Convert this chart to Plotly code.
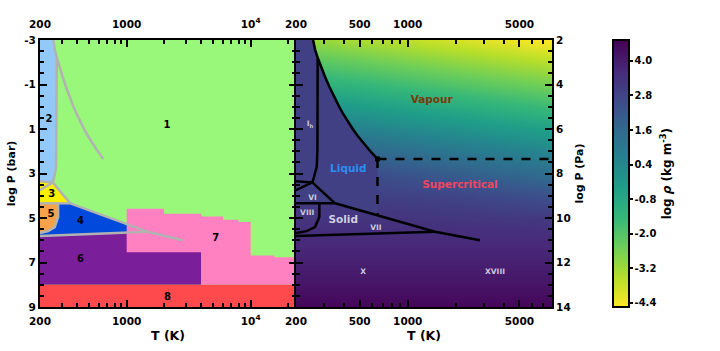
import numpy as np
import plotly.graph_objects as go
from plotly.colors import sample_colorscale

# ---------------- data ----------------
# Water phase boundaries: T [K], log10 P [Pa]
subl_boil_T = [256, 263, 273.16, 283, 293, 303, 323, 343, 373.12, 393, 423, 453, 483, 513, 543, 573, 603, 633, 647.1]
subl_boil_P = [2.0, 2.42, 2.787, 3.089, 3.369, 3.628, 4.092, 4.494, 5.006, 5.298, 5.678, 6.001, 6.281, 6.525, 6.740, 6.934, 7.107, 7.270, 7.344]
ih_melt_T = [273.16, 273.08, 272.4, 269.5, 264.2, 258.7, 253.0]
ih_melt_P = [2.787, 6.0, 7.0, 7.7, 8.0, 8.18, 8.40]
ih_iii_T = [200, 253.0]
ih_iii_P = [8.35, 8.40]
ii_v_T = [200, 253.0]
ii_v_P = [8.75, 8.40]
vi_melt_T = [253.0, 351]
vi_melt_P = [8.40, 9.34]
vi_vii_T = [200, 351]
vi_vii_P = [9.34, 9.34]
vii_melt_T = [351, 1483, 2830]
vii_melt_P = [9.34, 10.62, 11.0]
viii_T = [280, 280, 263, 233, 200]
viii_P = [9.34, 9.96, 10.41, 10.59, 10.68]
vii_x_T = [200, 1483]
vii_x_P = [10.81, 10.62]
crit_T, crit_P = 647.1, 7.344
crit_iso_end_P = 9.88          # dashed isotherm meets ice VII melting curve
T_right_max = 8000

# Left panel: EOS region map (T [K], log10 P [bar])
T_left_min, T_left_max = 200, 23200
P_left_min, P_left_max = -3, 9
reg8_P = 8.0                         # red region top
reg6_T_max = 4000                    # purple region right edge
reg6_P_top = 5.5
pink_T_edges = [1000, 2000, 4000, 6000, 8000, 10000, 15500, 23500]
pink_P_top = [4.58, 4.81, 4.93, 5.08, 5.18, 6.68, 6.76]
pink_P_bottom_low = 6.54             # bottom between 1000 K and 4000 K
reg_labels = ['1', '2', '3', '4', '5', '6', '7', '8']
reg_label_T = [2110, 236, 249, 425, 245, 425, 5220, 2130]
reg_label_P = [0.83, 0.56, 3.95, 5.14, 4.85, 6.88, 5.9, 8.59]

# Right panel: density field log10 rho [kg m^-3]
heat_T = [200, 300, 500, 700, 1000, 2000, 4000, 8000]
heat_P = [2, 3, 4, 5, 6, 7, 8, 9, 10, 11, 12, 13, 14]
heat_logrho = [
    [-2.97, -3.14, -3.36, -3.51, -3.67, -3.97, -4.27, -4.57],
    [-1.97, -2.14, -2.36, -2.51, -2.67, -2.97, -3.27, -3.57],
    [-0.97, -1.14, -1.36, -1.51, -1.67, -1.97, -2.27, -2.57],
    [0.03, -0.14, -0.36, -0.51, -0.67, -0.97, -1.27, -1.57],
    [1.03, 0.86, 0.64, 0.49, 0.33, 0.03, -0.27, -0.57],
    [2.03, 1.86, 1.64, 1.49, 1.33, 1.03, 0.73, 0.43],
    [2.90, 2.80, 2.60, 2.45, 2.30, 2.00, 1.70, 1.40],
    [3.05, 3.05, 3.00, 2.95, 2.90, 2.80, 2.60, 2.40],
    [3.30, 3.30, 3.30, 3.30, 3.30, 3.25, 3.20, 3.15],
    [3.60, 3.60, 3.60, 3.60, 3.60, 3.60, 3.60, 3.60],
    [3.90, 3.90, 3.90, 3.90, 3.90, 3.90, 3.90, 3.90],
    [4.20, 4.20, 4.20, 4.20, 4.20, 4.20, 4.20, 4.20],
    [4.60, 4.60, 4.60, 4.60, 4.60, 4.60, 4.60, 4.60],
]
condensed_logrho = 2.95
rho_min, rho_max = -4.55, 4.72
cbar_ticks = [4.0, 2.8, 1.6, 0.4, -0.8, -2.0, -3.2, -4.4]

phase_labels = ['Vapour', 'Liquid', 'Supercritical', 'Solid']
phase_label_T = [1413, 425, 2125, 395]
phase_label_P = [4.70, 7.83, 8.53, 10.1]
ice_labels = ['I<sub>h</sub>', 'VI', 'VIII', 'VII', 'X', 'XVIII']
ice_label_T = [245, 254, 235, 633, 527, 3520]
ice_label_P = [5.8, 9.1, 9.76, 10.45, 12.44, 12.44]

left_y_ticks = [-3, -1, 1, 3, 5, 7, 9]
right_y_ticks = [2, 4, 6, 8, 10, 12, 14]

# ---------------- styles ----------------
FONT = 'DejaVu Sans'
C_GREEN = '#99f87a'
C_LBLUE = '#93c9f8'
C_YELLOW = '#fbef00'
C_ORANGE = '#f7a24a'
C_BLUE = '#0049dd'
C_PURPLE = '#7b1e99'
C_PINK = '#ff81c1'
C_RED = '#ff4a4d'
C_GRAY = '#b2b2b2'

W, H = 720, 351
PL, PR, PT, PB = 40, 552, 40, 306.7   # plot-area pixel box


def bar(p):
    return [v - 5 for v in p]


fig = go.Figure()


def poly(xs, ys, color, xa='x', ya='y'):
    fig.add_trace(go.Scatter(x=xs, y=ys, fill='toself', fillcolor=color, mode='lines',
                             line=dict(width=0, color=color), xaxis=xa, yaxis=ya,
                             hoverinfo='skip', showlegend=False))


def line(xs, ys, color, width=2.5, dash='solid', xa='x', ya='y'):
    fig.add_trace(go.Scatter(x=xs, y=ys, mode='lines', line=dict(color=color, width=width, dash=dash),
                             xaxis=xa, yaxis=ya, hoverinfo='skip', showlegend=False))


# ---- left panel regions ----
poly([T_left_min, 23500, 23500, T_left_min], [P_left_min - 1, P_left_min - 1, P_left_max + 1, P_left_max + 1], C_GREEN)
poly([T_left_min, reg6_T_max, reg6_T_max, T_left_min], [reg6_P_top, reg6_P_top, reg8_P, reg8_P], C_PURPLE)
poly([vi_vii_T[0]] + vii_melt_T[:2] + [vii_x_T[0]],
     bar([vi_vii_P[0]] + vii_melt_P[:2] + [vii_x_P[0]]), C_BLUE)
poly([vi_vii_T[0]] + viii_T, bar([vi_vii_P[0]] + viii_P), C_ORANGE)
px, py = [pink_T_edges[0]], [pink_P_bottom_low]
for i in range(len(pink_P_top)):
    px += [pink_T_edges[i], pink_T_edges[i + 1]]
    py += [pink_P_top[i], pink_P_top[i]]
px += [pink_T_edges[-1], reg6_T_max, reg6_T_max]
py += [reg8_P, reg8_P, pink_P_bottom_low]
poly(px, py, C_PINK)
poly([T_left_min, 23500, 23500, T_left_min], [reg8_P, reg8_P, P_left_max + 1, P_left_max + 1], C_RED)
poly([ih_iii_T[0], ih_iii_T[1], vi_melt_T[1], vi_vii_T[0]],
     bar([ih_iii_P[0], ih_iii_P[1], vi_melt_P[1], vi_vii_P[0]]), C_YELLOW)
poly([T_left_min, subl_boil_T[0], subl_boil_T[1]] + ih_melt_T + [ih_iii_T[0]],
     [P_left_min - 1, P_left_min - 1, subl_boil_P[1] - 5] + bar(ih_melt_P) + [ih_iii_P[0] - 5], C_LBLUE)

boundaries = [(subl_boil_T, subl_boil_P), (ih_melt_T, ih_melt_P), (ih_iii_T, ih_iii_P), (ii_v_T, ii_v_P),
              (vi_melt_T, vi_melt_P), (vi_vii_T, vi_vii_P), (vii_melt_T, vii_melt_P), (viii_T, viii_P),
              (vii_x_T, vii_x_P)]
for tx, tp in boundaries:
    line(tx, bar(tp), C_GRAY, width=2.5)

fig.add_trace(go.Scatter(x=reg_label_T, y=reg_label_P, mode='text', text=reg_labels,
                         textfont=dict(family=FONT, size=10, color='black', weight='bold'),
                         xaxis='x', yaxis='y', hoverinfo='skip', showlegend=False))

# ---- right panel ----
cb_x = (613 - PL) / (PR - PL)
cb_yc = (PB - 173.5) / (PB - PT)
fig.add_trace(go.Heatmap(x=heat_T, y=heat_P, z=heat_logrho, zsmooth='best', colorscale='Viridis',
                         reversescale=True, zmin=rho_min, zmax=rho_max, xaxis='x2', yaxis='y2',
                         hoverinfo='skip',
                         colorbar=dict(x=cb_x, xanchor='left', xpad=0, y=cb_yc, yanchor='middle',
                                       ypad=0, len=267 / (PB - PT), lenmode='fraction', thickness=16,
                                       thicknessmode='pixels', outlinewidth=2, outlinecolor='black',
                                       ticks='outside', ticklen=3, tickwidth=1.5, tickcolor='black',
                                       tickvals=cbar_ticks, ticktext=['%.1f' % v for v in cbar_ticks],
                                       tickfont=dict(family=FONT, size=10, color='black', weight='bold'),
                                       title=dict(text='log <i>ρ</i> (kg m<sup>-3</sup>)', side='right',
                                                  font=dict(family=FONT, size=12, color='black', weight='bold')))))
cond_color = sample_colorscale('Viridis', [1 - (condensed_logrho - rho_min) / (rho_max - rho_min)])[0]
cx = [150] + subl_boil_T + [crit_T] + [vii_melt_T[0], 150]
cy = [subl_boil_P[0]] + subl_boil_P + [crit_iso_end_P] + [vii_melt_P[0], vi_vii_P[0]]
poly(cx, cy, cond_color, xa='x2', ya='y2')
for tx, tp in boundaries:
    line(tx, tp, 'black', width=2.5, xa='x2', ya='y2')
line([crit_T, T_right_max], [crit_P, crit_P], 'black', width=2.5, dash='dash', xa='x2', ya='y2')
line([crit_T, crit_T], [crit_P, crit_iso_end_P], 'black', width=2.5, dash='dash', xa='x2', ya='y2')
fig.add_trace(go.Scatter(x=[crit_T], y=[crit_P], mode='markers', marker=dict(color='black', size=5, symbol='square'),
                         xaxis='x2', yaxis='y2', hoverinfo='skip', showlegend=False))
phase_colors = ['#7a3a0c', '#2b8ef2', '#f2455c', '#cfcfe0']
fig.add_trace(go.Scatter(x=phase_label_T, y=phase_label_P, mode='text', text=phase_labels,
                         textfont=dict(family=FONT, size=10.5, color=phase_colors, weight='bold'),
                         xaxis='x2', yaxis='y2', hoverinfo='skip', showlegend=False))
fig.add_trace(go.Scatter(x=ice_label_T, y=ice_label_P, mode='text', text=ice_labels,
                         textfont=dict(family=FONT, size=7.5, color='#c9c9d9', weight='bold'),
                         xaxis='x2', yaxis='y2', hoverinfo='skip', showlegend=False))

# invisible traces so the top axes are drawn
fig.add_trace(go.Scatter(x=[1000], y=[0], mode='markers', marker=dict(opacity=0), xaxis='x3', yaxis='y',
                         hoverinfo='skip', showlegend=False))
fig.add_trace(go.Scatter(x=[1000], y=[5], mode='markers', marker=dict(opacity=0), xaxis='x4', yaxis='y2',
                         hoverinfo='skip', showlegend=False))

# ---------------- layout ----------------
tickfont = dict(family=FONT, size=10.5, color='black', weight='bold')
common = dict(ticks='inside', ticklen=7, tickwidth=1.8, tickcolor='black', showgrid=False, zeroline=False,
              tickfont=tickfont, automargin=False)
minor_x = dict(ticks='inside', ticklen=4, tickwidth=1.5, tickcolor='black', showgrid=False)
split = (296 - PL) / (PR - PL)
xl_domain = [0, split]
xr_domain = [split, 1]
y_domain = [0, 1]
xl_range = [np.log10(T_left_min), np.log10(T_left_max)]
xr_range = [np.log10(200), np.log10(T_right_max)]
xl_ticks = dict(tickmode='array', tickvals=[200, 1000, 10000], ticktext=['200', '1000', '10<sup>4</sup>'])
xl_minor = dict(minor_x, tickmode='array', tickvals=[300, 400, 500, 600, 700, 800, 900, 2000, 3000, 4000, 5000,
                                                    6000, 7000, 8000, 9000, 20000])
xr_ticks = dict(tickmode='array', tickvals=[200, 500, 1000, 5000], ticktext=['200', '500', '1000', '5000'])
xr_minor = dict(minor_x, tickmode='array', tickvals=[300, 400, 600, 700, 800, 900, 2000, 3000, 4000, 6000, 7000])
axis_title_font = dict(family=FONT, size=12.5, color='black', weight='bold')

fig.update_layout(
    width=W, height=H, margin=dict(l=PL, r=W - PR, t=PT, b=H - PB, autoexpand=False),
    paper_bgcolor='white', plot_bgcolor='white', showlegend=False,
    font=dict(family=FONT, size=10, color='black'),
    xaxis=dict(common, domain=xl_domain, type='log', range=xl_range, anchor='y', showline=True, linewidth=2,
               linecolor='black', mirror=True, minor=xl_minor, ticklabelstandoff=3,
               title=dict(text='T (K)', font=axis_title_font, standoff=6), **xl_ticks),
    xaxis3=dict(common, domain=xl_domain, type='log', range=xl_range, anchor='y', overlaying='x', side='top',
                showline=False, minor=xl_minor, ticklabelstandoff=9, **xl_ticks),
    yaxis=dict(common, domain=y_domain, range=[P_left_max, P_left_min], anchor='x', showline=True, linewidth=2,
               linecolor='black', mirror='ticks', tickmode='array', tickvals=left_y_ticks,
               ticktext=[str(v) for v in left_y_ticks],
               minor=dict(minor_x, dtick=0.5, tick0=-3),
               title=dict(text='log P (bar)', font=dict(axis_title_font, size=11), standoff=6)),
    xaxis2=dict(common, domain=xr_domain, type='log', range=xr_range, anchor='y2', showline=True, linewidth=2,
                linecolor='black', mirror=True, minor=xr_minor, ticklabelstandoff=3,
                title=dict(text='T (K)', font=axis_title_font, standoff=6), **xr_ticks),
    xaxis4=dict(common, domain=xr_domain, type='log', range=xr_range, anchor='y2', overlaying='x2', side='top',
                showline=False, minor=xr_minor, ticklabelstandoff=9, **xr_ticks),
    yaxis2=dict(common, domain=y_domain, range=[14, 2], anchor='x2', side='right', showline=True, linewidth=2,
                linecolor='black', mirror='ticks', tickmode='array', tickvals=right_y_ticks,
                ticktext=[str(v) for v in right_y_ticks],
                minor=dict(minor_x, dtick=0.5, tick0=2),
                title=dict(text='log P (Pa)', font=dict(axis_title_font, size=11), standoff=6)),
)

fig.write_html('out.html')
